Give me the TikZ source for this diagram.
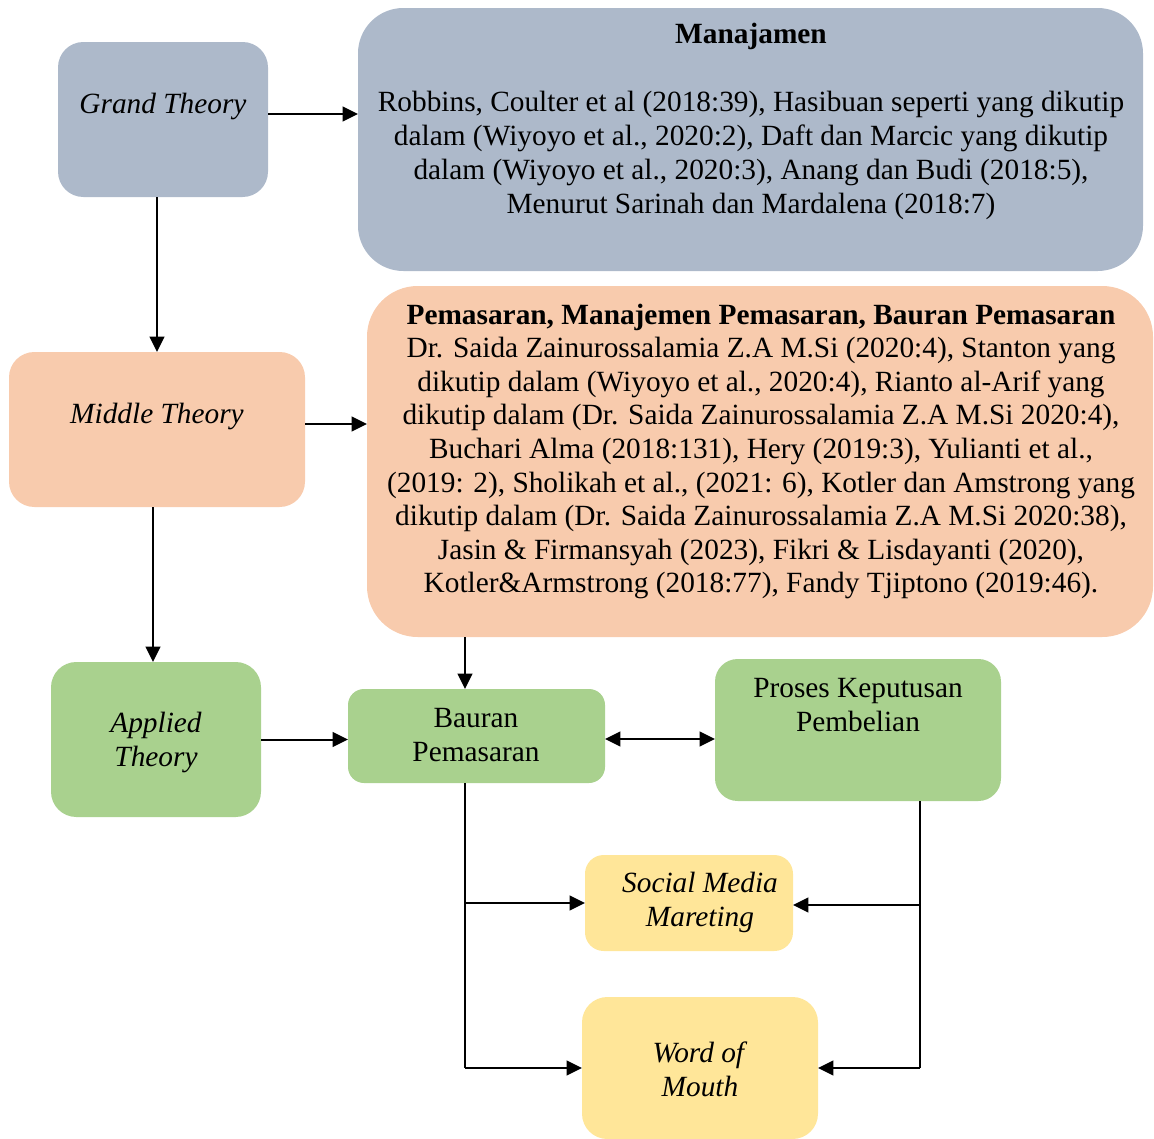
\documentclass[tikz,border=0pt]{standalone}
\usepackage{fontspec}
\setmainfont{Liberation Serif}
\usetikzlibrary{arrows.meta,calc}
\definecolor{cblue}{HTML}{ADB9CA}
\definecolor{corange}{HTML}{F8CBAD}
\definecolor{cgreen}{HTML}{A9D18E}
\definecolor{cyellow}{HTML}{FFE699}
\begin{document}
\begin{tikzpicture}[x=0.75pt,y=-0.75pt,
  box/.style={draw=none,inner sep=0pt,outer sep=0pt},
  txt/.style={align=center,inner sep=0pt,font={\fontsize{22}{25.5}\selectfont}},
  arr/.style={line width=1.5pt,-{Triangle[length=11.5pt,width=11pt]}},
  darr/.style={line width=1.5pt,{Triangle[length=11.5pt,width=11pt]}-{Triangle[length=11.5pt,width=11pt]}},
  ln/.style={line width=1.5pt}]
\useasboundingbox (0,0) rectangle (1154,1139);
% boxes
\node[box,fill=cblue,rounded corners=19pt,minimum width=157.5pt,minimum height=116.25pt] (Grand) at (163,119.5) {};
\node[box,fill=cblue,rounded corners=34pt,minimum width=588.75pt,minimum height=197.25pt] (Man) at (750.5,139.5) {};
\node[box,fill=corange,rounded corners=19pt,minimum width=222pt,minimum height=116.25pt] (Middle) at (157,429.5) {};
\node[box,fill=corange,rounded corners=38pt,minimum width=589.5pt,minimum height=263.25pt] (Or) at (760,461.5) {};
\node[box,fill=cgreen,rounded corners=19pt,minimum width=157.5pt,minimum height=116.25pt] (Applied) at (156,739.5) {};
\node[box,fill=cgreen,rounded corners=12pt,minimum width=192.75pt,minimum height=70.5pt] (Bauran) at (476.5,736) {};
\node[box,fill=cgreen,rounded corners=17pt,minimum width=214.5pt,minimum height=106.5pt] (Proses) at (858,730) {};
\node[box,fill=cyellow,rounded corners=14pt,minimum width=156pt,minimum height=72pt] (Social) at (689,903) {};
\node[box,fill=cyellow,rounded corners=19pt,minimum width=177pt,minimum height=106.5pt] (WoM) at (700,1068) {};
% texts
\node[txt] (tGrand) at (163,106) {\textit{Grand Theory}};
\node[txt] (tMan) at (751,121.5) {\textbf{Manajamen}\\[25.5pt]
Robbins, Coulter et al (2018:39), Hasibuan seperti yang dikutip\\
dalam (Wiyoyo et al., 2020:2), Daft dan Marcic yang dikutip\\
dalam (Wiyoyo et al., 2020:3), Anang dan Budi (2018:5),\\
Menurut Sarinah dan Mardalena (2018:7)};
\node[txt] (tMiddle) at (157,416.5) {\textit{Middle Theory}};
\node[txt,font={\fontsize{22}{25.2}\selectfont}] (tOr) at (761,451.5) {\textbf{Pemasaran, Manajemen Pemasaran, Bauran Pemasaran}\\
Dr. Saida Zainurossalamia Z.A M.Si (2020:4), Stanton yang\\
dikutip dalam (Wiyoyo et al., 2020:4), Rianto al-Arif yang\\
dikutip dalam (Dr. Saida Zainurossalamia Z.A M.Si 2020:4),\\
Buchari Alma (2018:131), Hery (2019:3), Yulianti et al.,\\
(2019: 2), Sholikah et al., (2021: 6), Kotler dan Amstrong yang\\
dikutip dalam (Dr. Saida Zainurossalamia Z.A M.Si 2020:38),\\
Jasin \& Firmansyah (2023), Fikri \& Lisdayanti (2020),\\
Kotler\&Armstrong (2018:77), Fandy Tjiptono (2019:46).};
\node[txt] (tApplied) at (156,742.5) {\textit{Applied}\\\textit{Theory}};
\node[txt] (tBauran) at (476,735) {Bauran\\Pemasaran};
\node[txt] (tProses) at (858,705) {Proses Keputusan\\Pembelian};
\node[txt] (tSocial) at (700,902) {\textit{Social Media}\\\textit{Mareting}};
\node[txt] (tWoM) at (700,1069.5) {\textit{Word of}\\\textit{Mouth}};
% connectors
\draw[arr] ($(Grand.east)+(0,-5.5)$) coordinate (g1) -- (g1 -| Man.west);
\draw[arr] (Grand.south -| Middle.north) -- (Middle.north);
\draw[arr] ($(Middle.east)+(0,-5.5)$) coordinate (m1) -- (m1 -| Or.west);
\draw[arr] ($(Middle.south)+(-4,0)$) coordinate (m2) -- (m2 |- Applied.north);
\draw[arr] (Applied.east) -- (Applied.east -| Bauran.west);
\coordinate (b1) at ($(Bauran.north)+(-11.5,0)$);
\draw[arr] (b1 |- Or.south) -- (b1);
\draw[darr] ($(Bauran.east)+(0,3)$) coordinate (b2) -- (b2 -| Proses.west);
\draw[ln] (b1 |- Bauran.south) -- (b1 |- WoM.west);
\draw[arr] (b1 |- Social.west) -- (Social.west);
\draw[arr] (b1 |- WoM.west) -- (WoM.west);
\coordinate (p1) at ($(Proses.south)+(62,0)$);
\draw[ln] (p1) -- (p1 |- WoM.east);
\draw[arr] ($(p1 |- Social.east)+(0,2)$) coordinate (p2) -- (p2 -| Social.east);
\draw[arr] (p1 |- WoM.east) -- (WoM.east);
\end{tikzpicture}
\end{document}
